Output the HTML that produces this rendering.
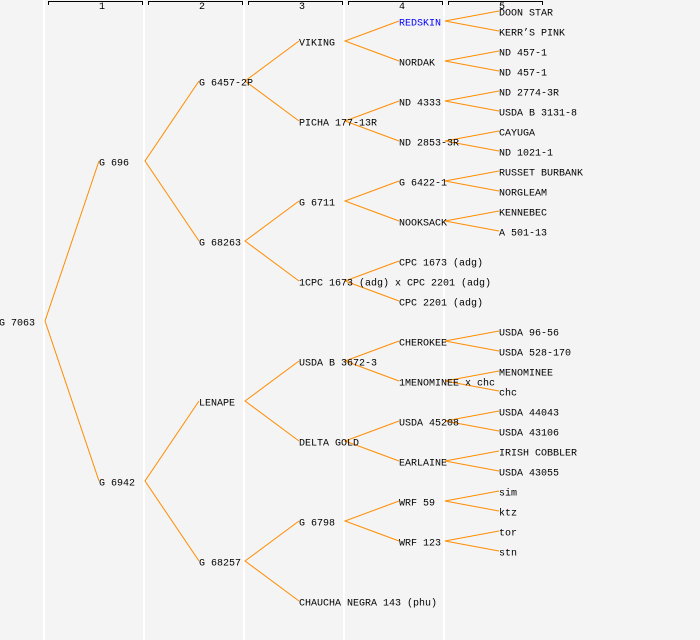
<!DOCTYPE html>
<html><head><meta charset="utf-8"><style>
html,body{margin:0;padding:0;background:#f4f4f4;}
svg{display:block;}
text{font-family:"Liberation Mono",monospace;font-size:10px;fill:#000;}
</style></head><body>
<svg width="700" height="640" xmlns="http://www.w3.org/2000/svg">
<rect width="700" height="640" fill="#f4f4f4"/>
<g stroke="#fff" stroke-width="2">
<line x1="44" y1="0" x2="44" y2="640"/><line x1="144" y1="0" x2="144" y2="640"/>
<line x1="244" y1="0" x2="244" y2="640"/><line x1="344" y1="0" x2="344" y2="640"/>
<line x1="444" y1="0" x2="444" y2="640"/>
</g>
<g stroke="#000" stroke-width="1" fill="none">
<path d="M48.5 5V1.5H142.5V5"/><path d="M148.5 5V1.5H242.5V5"/><path d="M248.5 5V1.5H342.5V5"/>
<path d="M348.5 5V1.5H442.5V5"/><path d="M448.5 5V1.5H542.5V5"/>
</g>
<g style="font-size:8px"><text x="99" y="9">1</text><text x="199" y="9">2</text><text x="299" y="9">3</text><text x="399" y="9">4</text><text x="499" y="9">5</text></g>
<g stroke="#ff8c00" stroke-width="1" fill="none">
<path d="M99 161L45 321L99 481"/>
<path d="M199 81L145 161L199 241M199 401L145 481L199 561"/>
<path d="M299 41L245 81L299 121M299 201L245 241L299 281M299 361L245 401L299 441M299 521L245 561L299 601"/>
<path d="M399 21L345 41L399 61M399 101L345 121L399 141M399 181L345 201L399 221M399 261L345 281L399 301M399 341L345 361L399 381M399 421L345 441L399 461M399 501L345 521L399 541"/>
<path d="M499 11L445 21L499 31M499 51L445 61L499 71M499 91L445 101L499 111M499 131L445 141L499 151M499 171L445 181L499 191M499 211L445 221L499 231M499 331L445 341L499 351M499 371L445 381L499 391M499 411L445 421L499 431M499 451L445 461L499 471M499 491L445 501L499 511M499 531L445 541L499 551"/>
</g>
<g>
<text x="-1" y="325.5">G 7063</text>
<text x="99" y="165.5">G 696</text><text x="99" y="485.5">G 6942</text>
<text x="199" y="85.5">G 6457-2P</text><text x="199" y="245.5">G 68263</text><text x="199" y="405.5">LENAPE</text><text x="199" y="565.5">G 68257</text>
<text x="299" y="45.5">VIKING</text><text x="299" y="125.5">PICHA 177-13R</text><text x="299" y="205.5">G 6711</text><text x="299" y="285.5">1CPC 1673 (adg) x CPC 2201 (adg)</text><text x="299" y="365.5">USDA B 3672-3</text><text x="299" y="445.5">DELTA GOLD</text><text x="299" y="525.5">G 6798</text><text x="299" y="605.5">CHAUCHA NEGRA 143 (phu)</text>
<text x="399" y="25.5" style="fill:#0000ff">REDSKIN</text><text x="399" y="65.5">NORDAK</text><text x="399" y="105.5">ND 4333</text><text x="399" y="145.5">ND 2853-3R</text><text x="399" y="185.5">G 6422-1</text><text x="399" y="225.5">NOOKSACK</text><text x="399" y="265.5">CPC 1673 (adg)</text><text x="399" y="305.5">CPC 2201 (adg)</text><text x="399" y="345.5">CHEROKEE</text><text x="399" y="385.5">1MENOMINEE x chc</text><text x="399" y="425.5">USDA 45208</text><text x="399" y="465.5">EARLAINE</text><text x="399" y="505.5">WRF 59</text><text x="399" y="545.5">WRF 123</text>
<text x="499" y="15.5">DOON STAR</text><text x="499" y="35.5">KERR’S PINK</text><text x="499" y="55.5">ND 457-1</text><text x="499" y="75.5">ND 457-1</text><text x="499" y="95.5">ND 2774-3R</text><text x="499" y="115.5">USDA B 3131-8</text><text x="499" y="135.5">CAYUGA</text><text x="499" y="155.5">ND 1021-1</text><text x="499" y="175.5">RUSSET BURBANK</text><text x="499" y="195.5">NORGLEAM</text><text x="499" y="215.5">KENNEBEC</text><text x="499" y="235.5">A 501-13</text>
<text x="499" y="335.5">USDA 96-56</text><text x="499" y="355.5">USDA 528-170</text><text x="499" y="375.5">MENOMINEE</text><text x="499" y="395.5">chc</text><text x="499" y="415.5">USDA 44043</text><text x="499" y="435.5">USDA 43106</text><text x="499" y="455.5">IRISH COBBLER</text><text x="499" y="475.5">USDA 43055</text><text x="499" y="495.5">sim</text><text x="499" y="515.5">ktz</text><text x="499" y="535.5">tor</text><text x="499" y="555.5">stn</text>
</g>
</svg>
</body></html>
